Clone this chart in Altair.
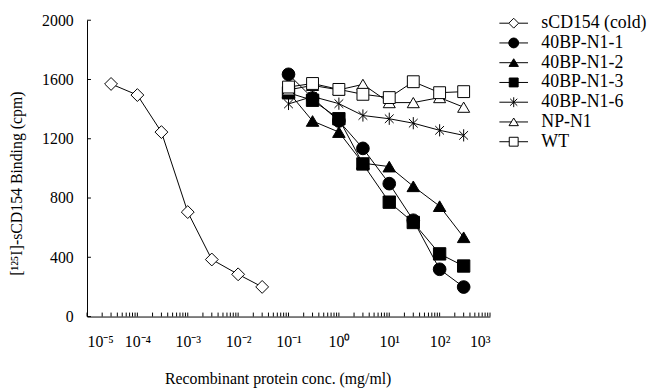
import altair as alt
import pandas as pd

# ---------------- data ----------------
series = ["sCD154 (cold)", "40BP-N1-1", "40BP-N1-2", "40BP-N1-3",
          "40BP-N1-6", "NP-N1", "WT"]

conc_cold = [3e-5, 1e-4, 3e-4, 1e-3, 3e-3, 1e-2, 3e-2]
conc_rec = [0.1, 0.3, 1, 3, 10, 30, 100, 300]

cold = [1570, 1495, 1245, 705, 385, 285, 200]
n1_1 = [1635, 1475, 1320, 1135, 897, 650, 319, 199]
n1_2 = [1515, 1320, 1245, 1035, 1012, 879, 745, 535]
n1_3 = [1510, 1460, 1335, 1030, 772, 635, 423, 341]
n1_6 = [1435, 1485, 1437, 1357, 1335, 1305, 1257, 1223]
np_n1 = [1530, 1560, 1530, 1567, 1444, 1444, 1478, 1413]
wt = [1549, 1573, 1533, 1500, 1478, 1585, 1511, 1518]

y_ticks = [0, 400, 800, 1200, 1600, 2000]
x_decades = [1e-5, 1e-4, 1e-3, 1e-2, 1e-1, 1e0, 1e1, 1e2, 1e3]
x_labels = ["10⁻⁵", "10⁻⁴", "10⁻³", "10⁻²", "10⁻¹", "10⁰", "10¹", "10²", "10³"]
minor_mult = [2, 3, 4, 5, 6, 7, 8, 9]

x_title = "Recombinant protein conc. (mg/ml)"
y_title = "[¹²⁵I]-sCD154 Binding (cpm)"

# ---------------- tables ----------------
values = [cold, n1_1, n1_2, n1_3, n1_6, np_n1, wt]
rows = []
for i, (name, vals) in enumerate(zip(series, values)):
    xs = conc_cold if i == 0 else conc_rec
    for x, v in zip(xs, vals):
        rows.append({"series": name, "order": i, "conc": x, "cpm": v})
df = pd.DataFrame(rows)

minor = [m * d for d in x_decades[:-1] for m in minor_mult]
xt = pd.DataFrame({"conc": x_decades + minor})
yt = pd.DataFrame({"cpm": y_ticks})

# ---------------- styling ----------------
FONT = "Liberation Serif"
W, H = 408, 300

ast = "M0,-1L0,1M-0.72,-0.7L0.72,0.7M-0.72,0.7L0.72,-0.7"
tri = "M0,-0.85L1,0.85L-1,0.85Z"
plot_shapes = ["diamond", "circle", tri, "square", ast, tri, "square"]
fills = ["white", "black", "black", "black", "black", "white", "white"]

L = 2.9
circ = "M1,0A1,1,0,1,1,-1,0A1,1,0,1,1,1,0Z"
leg_tri = "M0,-0.8L0.95,0.75L-0.95,0.75Z"
legend_shapes = [
    f"M-{L},0L-1,0M1,0L{L},0M0,-1L1,0L0,1L-1,0Z",
    f"M-{L},0L{L},0" + circ,
    f"M-{L},0L{L},0" + leg_tri,
    f"M-{L},0L{L},0M-0.9,-0.9L0.9,-0.9L0.9,0.9L-0.9,0.9Z",
    f"M-{L},0L{L},0" + ast,
    f"M-{L},0L-0.45,0M0.45,0L{L},0" + leg_tri,
    f"M-{L},0L-0.9,0M0.9,0L{L},0M-0.9,-0.9L0.9,-0.9L0.9,0.9L-0.9,0.9Z",
]

label_expr = "[" + ",".join(f"'{s}'" for s in x_labels) + "][round(log(datum.value)/LN10)+5]"

xscale = alt.Scale(type="log", domain=[1e-5, 1e3], nice=False)
yscale = alt.Scale(domain=[0, 2000], nice=False, zero=True)

xaxis = alt.Axis(values=x_decades, labelExpr=label_expr, ticks=False, grid=False,
                 labelPadding=17, titleY=63, titleX=193, titleBaseline="middle")
yaxis = alt.Axis(values=y_ticks, format="d", ticks=False, grid=False, labelPadding=14,
                 titleX=-71, titleY=165, titleBaseline="middle", titleAngle=270)

X = alt.X("conc:Q", scale=xscale, axis=xaxis, title=x_title)
Y = alt.Y("cpm:Q", scale=yscale, axis=yaxis, title=y_title)

base = alt.Chart(df)

lines = base.mark_line(color="black", strokeWidth=1).encode(
    x=X, y=Y, detail="series:N", order="conc:Q")

points = base.mark_point(filled=True, stroke="black", strokeWidth=1, opacity=1).encode(
    x=X, y=Y,
    shape=alt.Shape("series:N", scale=alt.Scale(domain=series, range=plot_shapes), legend=None),
    fill=alt.Fill("series:N", scale=alt.Scale(domain=series, range=fills), legend=None),
    size=alt.Size("series:N", scale=alt.Scale(domain=series,
                  range=[169, 144, 169, 150, 120, 169, 144]), legend=None),
)

leg = alt.Legend(orient="none", legendX=423, legendY=-6, padding=0, rowPadding=2,
                 labelOffset=19, symbolSize=100, symbolStrokeWidth=1,
                 symbolStrokeColor="black", symbolOpacity=1,
                 labelFont=FONT, labelFontSize=18, labelColor="black")

legend_layer = base.transform_filter("false").mark_point(
    filled=True, strokeWidth=1, opacity=1).encode(
    x=X, y=Y,
    shape=alt.Shape("series:N", scale=alt.Scale(domain=series, range=legend_shapes),
                    title=None, legend=leg),
    fill=alt.Fill("series:N", scale=alt.Scale(domain=series, range=fills),
                  title=None, legend=leg),
    stroke=alt.Stroke("series:N", scale=alt.Scale(domain=series, range=["black"] * 7),
                      title=None, legend=leg),
)

xticks = alt.Chart(xt).mark_rule(color="black", strokeWidth=1).encode(
    x=X, y=alt.value(H), y2=alt.value(H - 4))
yticks = alt.Chart(yt).mark_rule(color="black", strokeWidth=1).encode(
    y=Y, x=alt.value(0), x2=alt.value(4))

chart = alt.layer(xticks, yticks, lines, points, legend_layer).resolve_scale(
    shape="independent", fill="independent", size="independent", stroke="independent"
).properties(
    width=W, height=H,
    autosize=alt.AutoSizeParams(type="none"),
    padding={"left": 80, "top": 10, "right": 163, "bottom": 73},
).configure(
    background="white", font=FONT
).configure_view(
    stroke=None
).configure_axis(
    labelFont=FONT, labelFontSize=16, labelColor="black",
    titleFont=FONT, titleFontSize=16, titleFontWeight="normal", titleColor="black",
    domainColor="black", domainWidth=1
).configure_legend(
    labelFont=FONT, labelFontSize=18, labelColor="black"
)

chart.save("out.html", embed_options={"renderer": "svg", "actions": False})
